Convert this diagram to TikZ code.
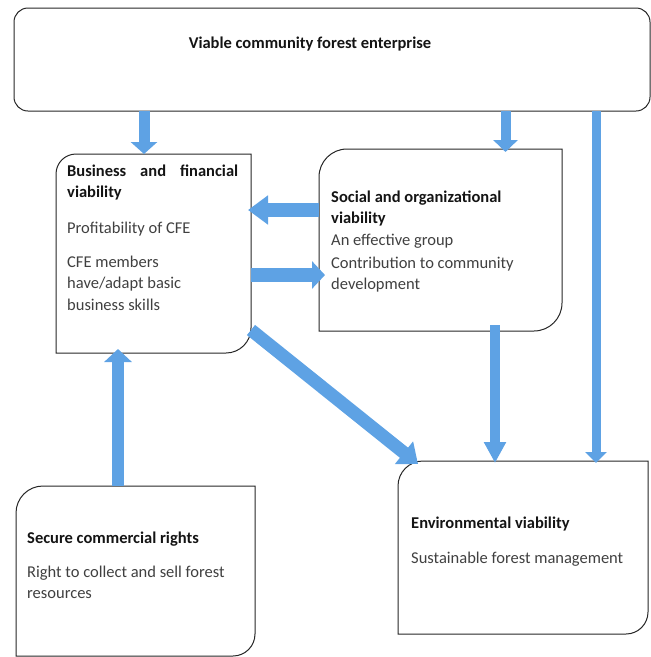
\documentclass[tikz,border=0pt]{standalone}
\usepackage{fontspec}
\setmainfont{Carlito}
\usetikzlibrary{arrows.meta,calc}
\definecolor{arrowblue}{RGB}{94,162,228}
\definecolor{bodygray}{RGB}{64,64,64}
\newcommand\diagframe[3]{%
  \draw[outline] (#1.south west) -- ([yshift=-#2]#1.north west)
    arc[start angle=180,end angle=90,radius=#2] -- (#1.north east)
    -- ([yshift=#3]#1.south east)
    arc[start angle=0,end angle=-90,radius=#3] -- cycle;}
\begin{document}
\begin{tikzpicture}[x=1pt,y=1pt,
  boxframe/.style={draw=none, rectangle, inner sep=0pt, outer sep=0pt, anchor=north west},
  outline/.style={draw=black!85, line width=1pt},
  head/.style={anchor=base west, inner sep=0pt, font=\fontsize{16.5}{20}\selectfont\bfseries, text=black!92},
  body/.style={anchor=base west, inner sep=0pt, font=\fontsize{16.5}{20}\selectfont, text=bodygray},
  blk/.style={draw=arrowblue, line width=#1},
]
\useasboundingbox (0,0) rectangle (651,-657);

% boxes
\node[boxframe, minimum width=636pt, minimum height=103pt] (top) at (14,-8) {};
\draw[outline, rounded corners=14pt] (top.north west) rectangle (top.south east);

\node[boxframe, minimum width=195pt, minimum height=199pt] (biz) at (56,-154) {};
\diagframe{biz}{20pt}{25pt}

\node[boxframe, minimum width=243pt, minimum height=182pt] (soc) at (319,-149) {};
\diagframe{soc}{28pt}{28pt}

\node[boxframe, minimum width=239pt, minimum height=170pt] (sec) at (16,-486) {};
\diagframe{sec}{27pt}{22pt}

\node[boxframe, minimum width=250pt, minimum height=173pt] (env) at (398,-461) {};
\diagframe{env}{25pt}{22pt}

% texts
\node[head, anchor=base] (title) at (310,-48) {Viable community forest enterprise};

\node[head] (bizh1) at (67,-176) {\hbox to 171pt{Business\hfill and\hfill financial}};
\node[head] (bizh2) at (67,-197) {viability};
\node[body] (bizb1) at (67,-233) {Profitability of CFE};
\node[body] (bizb2) at (67,-267) {CFE members};
\node[body] (bizb3) at (67,-288) {have/adapt basic};
\node[body] (bizb4) at (67,-310) {business skills};

\node[head] (soch1) at (331,-202) {Social and organizational};
\node[head] (soch2) at (331,-223) {viability};
\node[body] (socb1) at (331,-245) {An effective group};
\node[body] (socb2) at (331,-268) {Contribution to community};
\node[body] (socb3) at (331,-289) {development};

\node[head] (sech1) at (27,-543) {Secure commercial rights};
\node[body] (secb1) at (27,-577) {Right to collect and sell forest};
\node[body] (secb2) at (27,-598) {resources};

\node[head] (envh1) at (411,-528) {Environmental viability};
\node[body] (envb1) at (411,-563) {Sustainable forest management};

% arrow end points
\coordinate (a1e) at ([xshift=-9.5pt]biz.north);
\coordinate (a1s) at (a1e |- top.south);
\coordinate (a2e) at ([xshift=65pt,yshift=-3pt]soc.north);
\coordinate (a2s) at (a2e |- top.south);
\coordinate (a3e) at ([xshift=73pt,yshift=-2pt]env.north);
\coordinate (a3s) at (a3e |- top.south);
\coordinate (a4s) at ([yshift=30pt]soc.west);
\coordinate (a4e) at ($(a4s -| biz.east)+(-3,0)$);
\coordinate (a5s) at ([yshift=-21.5pt]biz.east);
\coordinate (a5e) at ($(a5s -| soc.west)+(6,0)$);
\coordinate (a6s) at ([yshift=23pt]biz.south east);
\coordinate (a6e) at ([xshift=20pt,yshift=-3pt]env.north west);
\coordinate (a7s) at ([xshift=54.5pt,yshift=6pt]soc.south);
\coordinate (a7e) at ($(a7s |- env.north)+(0,-2)$);
\coordinate (a8s) at ([xshift=-17.5pt]sec.north);
\coordinate (a8e) at ($(a8s |- biz.south)+(0,4)$);

% arrows
\draw[blk=11pt, -{Triangle[width=26pt,length=12pt]}] (a1s) -- (a1e);
\draw[blk=10pt, -{Triangle[width=24pt,length=12pt]}] (a2s) -- (a2e);
\draw[blk=9pt, -{Triangle[width=21pt,length=11pt]}] (a3s) -- (a3e);
\draw[blk=14pt, -{Triangle[width=28pt,length=20pt]}] (a4s) -- (a4e);
\draw[blk=14pt, -{Triangle[width=27pt,length=13pt]}] (a5s) -- (a5e);
\draw[blk=13pt, -{Triangle[width=28pt,length=18pt]}] (a6s) -- (a6e);
\draw[blk=10pt, -{Triangle[width=21pt,length=21pt]}] (a7s) -- (a7e);
\draw[blk=12pt, -{Triangle[width=27pt,length=13pt]}] (a8s) -- (a8e);
\end{tikzpicture}
\end{document}
